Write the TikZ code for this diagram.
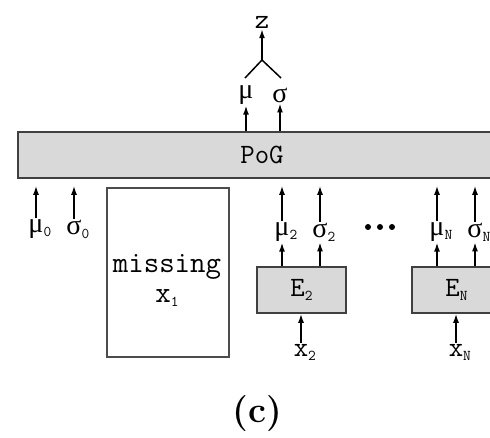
\documentclass[tikz,border=0pt]{standalone}
\usepackage{fontspec}
\newfontfamily\grk{Liberation Serif}
\usetikzlibrary{arrows.meta,positioning}

\newcommand\lowidx[1]{\raisebox{-4pt}{\fontsize{15}{15}\selectfont #1}}

\tikzset{
  sym/.style={font=\ttfamily\fontsize{28}{28}\selectfont, inner sep=1pt},
  blk/.style={draw=black!75, line width=1.6pt, fill=black!15},
  arr/.style={-{Latex[length=9pt,width=6pt]}, line width=1.5pt},
}

\begin{document}
\begin{tikzpicture}[x=1pt,y=-1pt]
\useasboundingbox (0,0) rectangle (490,438);
\begin{scope}
\clip (0,0) rectangle (490,438);
% product of gaussians
\node[blk, sym, minimum width=488pt, minimum height=46pt] (pog) at (262,155) {PoG};
\node[sym] (mu) at (246,95) {\grk μ};
\node[sym] (sigma) at (280,95) {\grk σ};
\node[sym] (z) at (262,22) {z};
\coordinate (fork) at (262,60);
\draw[arr] (pog.north -| mu) -- (mu.south);
\draw[arr] (pog.north -| sigma) -- (sigma.south);
\draw[line width=1.5pt] (245,78) -- (fork) -- (281,78);
\draw[arr] (fork) -- (z.south);
% prior expert
\node[sym] (mu0) at (36,229) {{\grk μ}\rlap{\lowidx{0}}};
\node[sym] (sigma0) at (74,229) {{\grk σ}\rlap{\lowidx{0}}};
\draw[arr, shorten >=7pt] (mu0.north) -- (mu0 |- pog.south);
\draw[arr, shorten >=7pt] (sigma0.north) -- (sigma0 |- pog.south);
% missing modality
\node[draw=black!70, line width=1.2pt, minimum width=122pt, minimum height=169pt] (miss) at (168,272.5) {};
\node[sym, font=\ttfamily\fontsize{30}{30}\selectfont, align=center] (misstxt) at (167,280) {missing\\x\lowidx{1}};
% encoder 2
\node[blk, sym, minimum width=89pt, minimum height=46pt] (e2) at (301.5,290) {E\lowidx{2}};
\node[sym] (mu2) at (282,232) {{\grk μ}\rlap{\lowidx{2}}};
\node[sym] (sigma2) at (320,232) {{\grk σ}\rlap{\lowidx{2}}};
\node[sym] (x2) at (301,352) {x\rlap{\lowidx{2}}};
\draw[arr] (e2.north -| mu2) -- (mu2.south);
\draw[arr] (e2.north -| sigma2) -- (sigma2.south);
\draw[arr, shorten >=7pt] (mu2.north) -- (mu2 |- pog.south);
\draw[arr, shorten >=7pt] (sigma2.north) -- (sigma2 |- pog.south);
\draw[arr] (x2.north) -- (e2.south -| x2);
\foreach \x in {368,380,392} \fill (\x,227) circle (3pt);
% encoder N
\node[blk, sym, minimum width=89pt, minimum height=46pt] (en) at (456.5,290) {E\lowidx{N}};
\node[sym] (muN) at (437,232) {{\grk μ}\rlap{\lowidx{N}}};
\node[sym] (sigmaN) at (475,232) {{\grk σ}\rlap{\lowidx{N}}};
\node[sym] (xN) at (456,352) {x\rlap{\lowidx{N}}};
\draw[arr] (en.north -| muN) -- (muN.south);
\draw[arr] (en.north -| sigmaN) -- (sigmaN.south);
\draw[arr, shorten >=7pt] (muN.north) -- (muN |- pog.south);
\draw[arr, shorten >=7pt] (sigmaN.north) -- (sigmaN |- pog.south);
\draw[arr] (xN.north) -- (en.south -| xN);
\end{scope}
\node[font=\bfseries\fontsize{36}{36}\selectfont] (cap) at (257,414) {(c)};
\end{tikzpicture}
\end{document}
